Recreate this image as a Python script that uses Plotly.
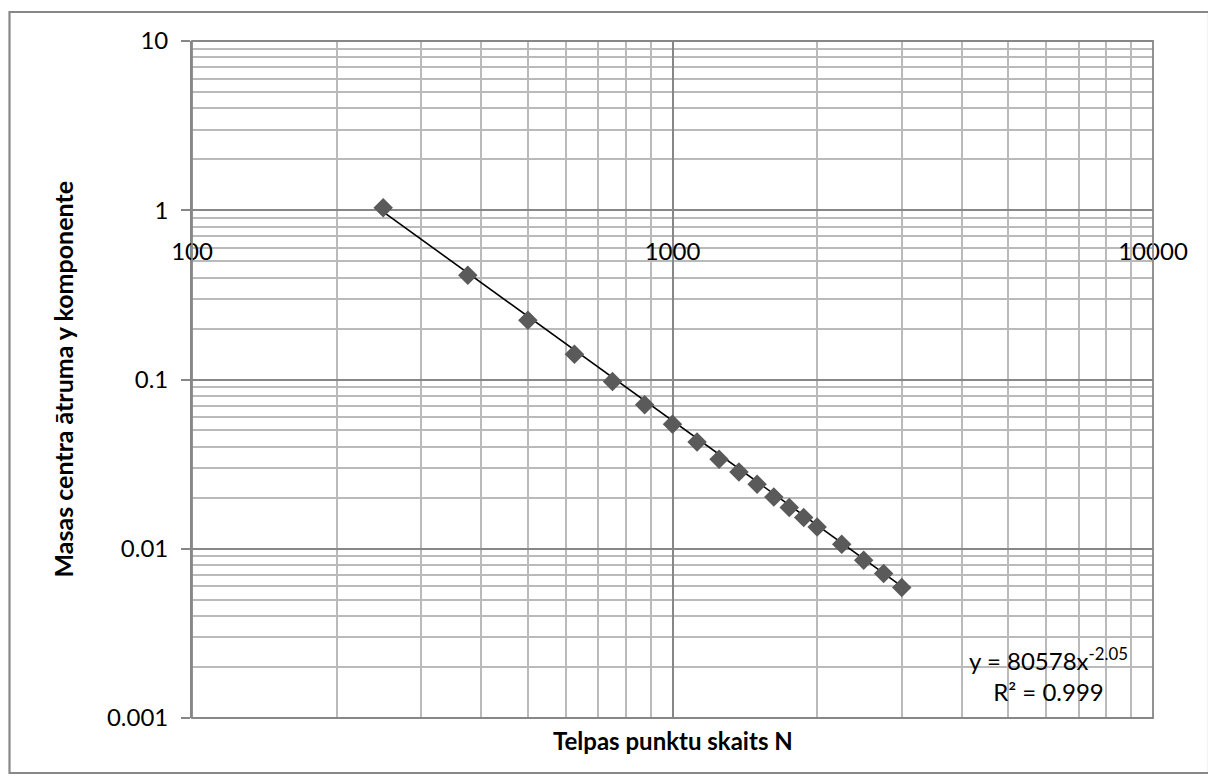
import numpy as np
import plotly.graph_objects as go

# Data
n_points = [250, 375, 500, 625, 750, 875, 1000, 1125, 1250, 1375, 1500,
            1625, 1750, 1875, 2000, 2250, 2500, 2750, 3000]
vy_values = [1.035, 0.413, 0.224, 0.141, 0.0972, 0.0709, 0.0544, 0.0428,
             0.0338, 0.0284, 0.02405, 0.02023, 0.01751, 0.01529, 0.01345,
             0.01063, 0.00855, 0.00714, 0.0059]

# Power trendline coefficients as printed on the chart
fit_a = 80578
fit_b = -2.05

y_tick_vals = [0.001, 0.01, 0.1, 1, 10]
y_tick_text = ["0.001", "0.01", "0.1", "1", "10"]
x_tick_vals = [100, 1000, 10000]
x_tick_text = ["100", "1000", "10000"]

x_title = "Telpas punktu skaits N"
y_title = "Masas centra ātruma y komponente"
eq_text = "y = 80578x<sup>-2.05</sup><br>R² = 0.999"

x_minor = [k * 10 ** e for e in (2, 3) for k in range(2, 10)]
y_minor = [k * 10 ** e for e in (-3, -2, -1, 0) for k in range(2, 10)]

MAJOR = "#878787"
MINOR = "#bababa"
FONT = "Lato, 'Open Sans', sans-serif"

trend_x = np.array([min(n_points), max(n_points)], dtype=float)
trend_y = fit_a * trend_x ** fit_b

fig = go.Figure()
fig.add_trace(go.Scatter(
    x=trend_x, y=trend_y, mode="lines",
    line=dict(color="black", width=1.6), showlegend=False, hoverinfo="skip"))
fig.add_trace(go.Scatter(
    x=n_points, y=vy_values, mode="markers",
    marker=dict(symbol="diamond", size=15, color="#5a5a5a"),
    showlegend=False))

# page has an 8px body margin: figure coords = page coords - 8
OFF = 8
L, R, T, B = 192 - OFF, 1153 - OFF, 41 - OFF, 718 - OFF
W, H = 1208, 771


def px(xp):
    return (xp - OFF - L) / (R - L)


def py(yp):
    return (B - (yp - OFF)) / (B - T)


fig.update_layout(
    width=W, height=H,
    margin=dict(l=L, r=W - R, t=T, b=H - B, autoexpand=False),
    paper_bgcolor="white", plot_bgcolor="white",
    font=dict(family=FONT, size=24, color="black"),
    xaxis=dict(
        type="log", range=[2, 4],
        tickmode="array", tickvals=x_tick_vals, ticktext=x_tick_text,
        showgrid=True, gridcolor=MAJOR, gridwidth=1.8,
        minor=dict(tickmode="array", tickvals=x_minor, showgrid=True,
                   gridcolor=MINOR, gridwidth=1.5, ticks=""),
        anchor="free", position=0.75,
        showline=False, ticks="", zeroline=False,
        ticklabelstandoff=25, automargin=False,
        tickfont=dict(family=FONT, size=24),
    ),
    yaxis=dict(
        type="log", range=[-3, 1],
        tickmode="array", tickvals=y_tick_vals, ticktext=y_tick_text,
        showgrid=True, gridcolor=MAJOR, gridwidth=1.8,
        minor=dict(tickmode="array", tickvals=y_minor, showgrid=True,
                   gridcolor=MINOR, gridwidth=1.5, ticks=""),
        showline=True, linecolor=MAJOR, linewidth=1.8,
        ticks="outside", ticklen=9, tickcolor=MAJOR, tickwidth=1.8,
        ticklabelstandoff=8, zeroline=False, automargin=False,
        tickfont=dict(family=FONT, size=24),
    ),
    shapes=[
        dict(type="rect", xref="paper", yref="paper", x0=0, x1=1, y0=0, y1=1,
             line=dict(color=MAJOR, width=1.8), layer="above"),
        dict(type="rect", xref="paper", yref="paper",
             x0=px(OFF + 1.5), x1=px(1209), y0=py(773), y1=py(12),
             line=dict(color="#888888", width=2.2), layer="below"),
    ],
    annotations=[
        dict(text=x_title, xref="paper", yref="paper", x=0.5,
             y=py(740), xanchor="center", yanchor="middle",
             showarrow=False, font=dict(family=FONT, size=24, color="black",
                                        weight="bold")),
        dict(text=y_title, xref="paper", yref="paper", x=px(62),
             y=0.5, xanchor="center", yanchor="middle", textangle=-90,
             showarrow=False, font=dict(family=FONT, size=25, color="black",
                                        weight="bold")),
        dict(text=eq_text, xref="paper", yref="paper", x=px(1048),
             y=py(674), xanchor="center", yanchor="middle",
             showarrow=False, align="center",
             font=dict(family=FONT, size=24, color="black")),
    ],
)

fig.write_html("out.html")
